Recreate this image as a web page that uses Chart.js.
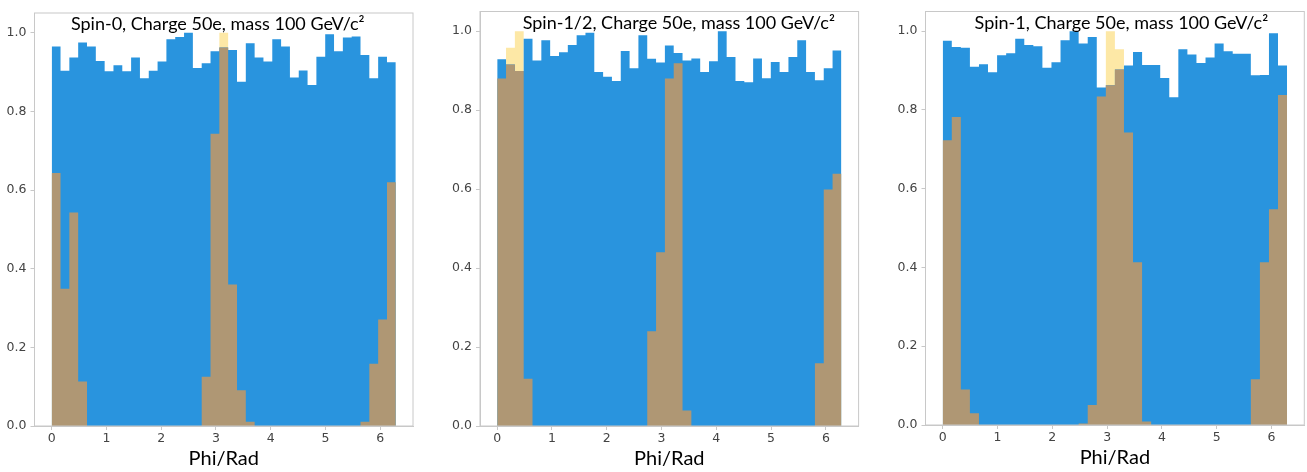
<!DOCTYPE html>
<html><head><meta charset="utf-8">
<script src="https://cdn.jsdelivr.net/npm/chart.js@4.4.1/dist/chart.umd.min.js"></script>
<style>
html,body{margin:0;padding:0;background:#fff;width:1307px;height:472px;overflow:hidden;position:relative}
canvas{position:absolute;top:0}
</style></head><body>
<canvas id="c0"></canvas><canvas id="c1"></canvas><canvas id="c2"></canvas>
<script>
// ---- data ----
const panelTitles = ['Spin-0, Charge 50e, mass 100 GeV/c\u00B2', 'Spin-1/2, Charge 50e, mass 100 GeV/c\u00B2', 'Spin-1, Charge 50e, mass 100 GeV/c\u00B2'];
const xAxisLabel = 'Phi/Rad';
const xTickValues = [0, 1, 2, 3, 4, 5, 6];
const yTickValues = [0.0, 0.2, 0.4, 0.6, 0.8, 1.0];
const phiRange = [0, 2 * Math.PI];

const spin0Blue = [0.965,0.903,0.937,0.975,0.965,0.928,0.902,0.917,0.902,0.937,0.884,0.903,0.927,0.983,0.989,1.0,0.910,0.922,0.953,0.962,0.956,0.875,0.973,0.937,0.927,0.983,0.965,0.886,0.904,0.867,0.939,0.996,0.953,0.988,0.990,0.943,0.884,0.939,0.925];
const spin0Yellow = [0.643,0.349,0.543,0.113,0,0,0,0,0,0,0,0,0,0,0,0,0,0.125,0.743,1.0,0.360,0.091,0.011,0,0,0,0,0,0,0,0,0,0,0,0,0.011,0.158,0.271,0.620];

const spinHalfBlue = [0.929,0.916,0.899,0.981,0.926,0.977,0.937,0.947,0.965,0.990,0.996,0.897,0.885,0.874,0.950,0.906,0.990,0.930,0.921,0.964,0.945,0.926,0.931,0.897,0.924,1.0,0.935,0.874,0.871,0.931,0.881,0.922,0.897,0.935,0.977,0.897,0.876,0.906,0.951];
const spinHalfYellow = [0.880,0.958,1.0,0.120,0,0,0,0,0,0,0,0,0,0,0,0,0,0.240,0.440,0.880,0.919,0.039,0,0,0,0,0,0,0,0,0,0,0,0,0,0,0.159,0.599,0.639];

const spin1Blue = [0.976,0.960,0.958,0.910,0.916,0.896,0.939,0.944,0.981,0.965,0.962,0.907,0.921,0.977,1.0,0.969,0.985,0.857,0.863,0.903,0.913,0.947,0.914,0.914,0.881,0.832,0.954,0.941,0.919,0.933,0.969,0.949,0.943,0.943,0.888,0.889,0.995,0.913];
const spin1Yellow = [0.723,0.782,0.090,0.030,0,0,0,0,0,0,0,0,0,0,0,0.004,0.051,0.834,1.0,0.954,0.743,0.413,0.009,0,0,0,0,0,0,0,0,0,0,0,0.116,0.413,0.548,0.838];

// ---- styling / layout ----
const BLUE = '#2994de', PALE = '#fde8a6', TAN = '#af9774', FRAME = '#c8c8c8';
const panels = [
  {id:'c0', title:panelTitles[0], blue:spin0Blue, yellow:spin0Yellow, box:{left:34.5, right:413, top:13, bottom:426}, titleDx:-6, titleY:29.5},
  {id:'c1', title:panelTitles[1], blue:spinHalfBlue, yellow:spinHalfYellow, box:{left:480, right:858.6, top:10.5, bottom:426}, titleDx:9.5, titleY:28.5},
  {id:'c2', title:panelTitles[2], blue:spin1Blue, yellow:spin1Yellow, box:{left:925.5, right:1304.3, top:10.5, bottom:425}, titleDx:6.5, titleY:29.3}
];
const H = 472, XH = 46;

function histPoints(values) {
  const n = values.length, w = (phiRange[1] - phiRange[0]) / n;
  const pts = values.map((v, k) => ({x: phiRange[0] + k * w, y: v}));
  pts.push({x: phiRange[1], y: values[n - 1]});
  return pts;
}

const framePlugin = {
  id: 'frame',
  afterDraw(chart, args, opts) {
    const {ctx, chartArea: a} = chart;
    ctx.save();
    ctx.strokeStyle = FRAME; ctx.lineWidth = 1;
    ctx.strokeRect(a.left, a.top, a.right - a.left, a.bottom - a.top);
    ctx.restore();
  }
};
const panelTitlePlugin = {
  id: 'panelTitle',
  afterDatasetsDraw(chart, args, opts) {
    const {ctx, chartArea: a} = chart;
    ctx.save();
    ctx.font = '18px Lato';
    ctx.fillStyle = '#000';
    ctx.textAlign = 'center';
    ctx.textBaseline = 'alphabetic';
    ctx.fillText(opts.text, (a.left + a.right) / 2 + opts.dx, opts.y);
    ctx.restore();
  }
};

panels.forEach(p => {
  const b = p.box;
  const cLeft = Math.floor(b.left) - 40;
  const yw = b.left - cLeft;
  const W = Math.ceil(b.right - cLeft + 12);
  const cv = document.getElementById(p.id);
  cv.width = W; cv.height = H;
  cv.style.left = cLeft + 'px'; cv.style.width = W + 'px'; cv.style.height = H + 'px';
  const overlap = p.blue.map((v, k) => Math.min(v, p.yellow[k]));
  const ds = (label, vals, color, order) => ({
    label, data: histPoints(vals), backgroundColor: color, borderWidth: 0,
    pointRadius: 0, fill: 'origin', stepped: 'before', order, tension: 0
  });
  new Chart(cv, {
    type: 'line',
    data: {datasets: [
      ds('yellow', p.yellow, PALE, 3),
      ds('blue', p.blue, BLUE, 2),
      ds('overlap', overlap, TAN, 1)
    ]},
    options: {
      responsive: false, animation: false, devicePixelRatio: 1,
      layout: {padding: {left: 0, top: b.top, right: W - (b.right - cLeft), bottom: H - b.bottom - XH}},
      plugins: {legend: {display: false}, tooltip: {enabled: false},
        panelTitle: {text: p.title, dx: p.titleDx, y: p.titleY}},
      scales: {
        x: {
          type: 'linear', min: phiRange[0] - 0.05 * (phiRange[1] - phiRange[0]), max: phiRange[1] + 0.05 * (phiRange[1] - phiRange[0]),
          afterBuildTicks: s => { s.ticks = xTickValues.map(v => ({value: v})); },
          afterFit: s => { s.height = XH; },
          ticks: {font: {family: 'DejaVu Sans', size: 12.5}, color: '#444', padding: 1, maxRotation: 0, callback: v => String(v)},
          grid: {display: true, drawOnChartArea: false, drawTicks: true, tickLength: 4, color: FRAME},
          border: {display: true, color: FRAME},
          title: {display: true, text: xAxisLabel, font: {family: 'Lato', size: 20}, color: '#000', padding: {top: 0, bottom: 1}}
        },
        y: {
          type: 'linear', min: 0, max: 1.05,
          afterBuildTicks: s => { s.ticks = yTickValues.map(v => ({value: v})); },
          afterFit: s => { s.width = yw; },
          ticks: {font: {family: 'DejaVu Sans', size: 12.5}, color: '#444', padding: 4, callback: v => v.toFixed(1)},
          grid: {display: true, drawOnChartArea: false, drawTicks: true, tickLength: 4, color: FRAME},
          border: {display: true, color: FRAME}
        }
      }
    },
    plugins: [framePlugin, panelTitlePlugin]
  });
});
</script>
</body></html>
